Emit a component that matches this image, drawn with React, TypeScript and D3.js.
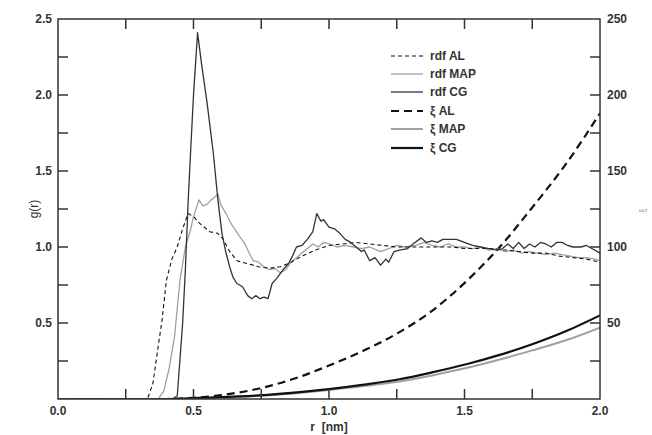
import * as d3 from 'd3';

// g(r) curves: [r (nm), g]
const rdfAL: [number, number][] = [
  [0, 0], [0.33, 0], [0.35, 0.1], [0.37, 0.35], [0.384, 0.52], [0.4, 0.78], [0.42, 0.92], [0.44, 1.0],
  [0.46, 1.12], [0.48, 1.22], [0.5, 1.2], [0.52, 1.16], [0.54, 1.13], [0.56, 1.1], [0.59, 1.09],
  [0.61, 1.05], [0.63, 0.98], [0.66, 0.91], [0.7, 0.89], [0.74, 0.87], [0.78, 0.86], [0.82, 0.87],
  [0.86, 0.9], [0.9, 0.94], [0.95, 0.98], [1.0, 1.01], [1.05, 1.02], [1.1, 1.03], [1.15, 1.02],
  [1.2, 1.01], [1.25, 1.0], [1.3, 1.0], [1.35, 1.0], [1.4, 1.0], [1.45, 1.0], [1.5, 0.99], [1.55, 0.99],
  [1.6, 0.99], [1.65, 0.98], [1.7, 0.97], [1.75, 0.96], [1.8, 0.96], [1.85, 0.94], [1.9, 0.93],
  [1.95, 0.92], [2.0, 0.9],
];

const rdfMAP: [number, number][] = [
  [0, 0], [0.37, 0], [0.39, 0.05], [0.41, 0.2], [0.43, 0.41], [0.45, 0.78], [0.47, 1.0], [0.49, 1.12],
  [0.5, 1.2], [0.52, 1.31], [0.535, 1.27], [0.55, 1.28], [0.565, 1.31], [0.58, 1.33], [0.59, 1.35],
  [0.6, 1.28], [0.62, 1.22], [0.64, 1.15], [0.67, 1.07], [0.69, 1.02], [0.7, 0.98], [0.72, 0.91],
  [0.74, 0.9], [0.76, 0.87], [0.78, 0.85], [0.8, 0.86], [0.82, 0.83], [0.84, 0.85], [0.86, 0.9],
  [0.88, 0.93], [0.9, 0.96], [0.92, 0.99], [0.94, 1.02], [0.96, 1.0], [0.98, 1.03], [1.0, 1.02],
  [1.03, 1.0], [1.06, 1.01], [1.09, 1.0], [1.12, 0.99], [1.15, 1.0], [1.19, 0.97], [1.22, 0.99],
  [1.25, 1.01], [1.28, 1.0], [1.32, 1.01], [1.35, 1.03], [1.38, 1.01], [1.41, 1.0], [1.44, 1.02],
  [1.47, 1.0], [1.5, 1.0], [1.53, 0.99], [1.56, 1.0], [1.59, 0.98], [1.62, 0.99], [1.65, 0.97],
  [1.68, 0.98], [1.71, 0.96], [1.74, 0.97], [1.77, 0.96], [1.8, 0.95], [1.83, 0.96], [1.86, 0.95],
  [1.89, 0.94], [1.92, 0.93], [1.95, 0.93], [1.98, 0.92], [2.0, 0.91],
];

const rdfCG: [number, number][] = [
  [0, 0], [0.42, 0], [0.44, 0.02], [0.46, 0.5], [0.47, 0.85], [0.48, 1.29], [0.49, 1.65], [0.5, 2.0],
  [0.515, 2.41], [0.53, 2.2], [0.55, 1.95], [0.573, 1.62], [0.59, 1.31], [0.605, 1.09], [0.62, 0.96],
  [0.635, 0.86], [0.646, 0.8], [0.66, 0.76], [0.68, 0.74], [0.7, 0.68], [0.715, 0.66], [0.73, 0.68],
  [0.745, 0.66], [0.76, 0.67], [0.775, 0.66], [0.79, 0.76], [0.81, 0.8], [0.83, 0.85], [0.85, 0.89],
  [0.865, 0.94], [0.88, 1.0], [0.9, 1.01], [0.92, 1.05], [0.94, 1.1], [0.955, 1.22], [0.97, 1.17],
  [0.98, 1.18], [1.0, 1.13], [1.02, 1.12], [1.04, 1.09], [1.06, 1.05], [1.08, 1.03], [1.1, 1.0],
  [1.12, 0.97], [1.13, 0.98], [1.15, 0.91], [1.17, 0.93], [1.19, 0.88], [1.21, 0.92], [1.22, 0.9],
  [1.24, 0.97], [1.26, 0.98], [1.29, 0.99], [1.31, 1.02], [1.34, 1.06], [1.36, 1.03], [1.38, 1.04],
  [1.4, 1.03], [1.42, 1.05], [1.45, 1.05], [1.47, 1.05], [1.5, 1.03], [1.53, 1.01], [1.56, 1.0],
  [1.59, 0.99], [1.62, 0.98], [1.64, 0.99], [1.66, 1.02], [1.68, 0.99], [1.7, 1.03], [1.72, 0.99],
  [1.74, 1.02], [1.76, 1.0], [1.78, 1.03], [1.8, 1.02], [1.82, 1.0], [1.84, 1.03], [1.86, 1.03],
  [1.88, 1.01], [1.9, 1.0], [1.93, 1.0], [1.95, 1.01], [1.97, 0.99], [2.0, 0.96],
];

// xi curves (right axis): [r (nm), value]
const xiAL: [number, number][] = [
  [0, 0], [0.4, 0], [0.5, 0.8], [0.6, 2.5], [0.757, 7.5], [0.89, 14.5], [1.0, 22], [1.13, 32],
  [1.26, 44], [1.38, 58], [1.51, 78], [1.63, 100], [1.75, 126], [1.88, 156], [2.0, 188],
];
const xiMAP: [number, number][] = [
  [0, 0], [0.42, 0], [0.52, 0.6], [0.76, 2.3], [1.0, 6], [1.13, 8.5], [1.26, 11.5], [1.38, 15.5],
  [1.51, 20.5], [1.63, 26], [1.75, 32], [1.88, 39], [2.0, 47],
];
const xiCG: [number, number][] = [
  [0, 0], [0.42, 0], [0.52, 0.7], [0.76, 2.6], [1.0, 6.5], [1.13, 9.5], [1.26, 13], [1.38, 17.5],
  [1.51, 23], [1.63, 29], [1.75, 36], [1.88, 45], [2.0, 55],
];

const xTickLabels = [0, 0.5, 1.0, 1.5, 2.0];
const xMinor = [0.25, 0.75, 1.25, 1.75];
const yLeftLabels = [0.5, 1.0, 1.5, 2.0, 2.5];
const yLeftMinor = [0.25, 0.75, 1.25, 1.75, 2.25];
const yRightLabels = [50, 100, 150, 200, 250];
const yRightMinor = [25, 75, 125, 175, 225];

const legendItems = [
  { label: 'rdf AL', color: '#111', width: 1.1, dash: '4,3' },
  { label: 'rdf MAP', color: '#a0a0a0', width: 1.3, dash: null },
  { label: 'rdf CG', color: '#333', width: 1.3, dash: null },
  { label: 'ξ AL', color: '#111', width: 2.2, dash: '8,5' },
  { label: 'ξ MAP', color: '#a0a0a0', width: 2, dash: null },
  { label: 'ξ CG', color: '#111', width: 2.2, dash: null },
];

const W = 652;
const H = 435;
const L = 58, R = 600, T = 19, B = 399;
const FONT = '"Liberation Sans", Arial, sans-serif';
const AXIS = '#333';

export default function App() {
  const x = d3.scaleLinear().domain([0, 2]).range([L, R]);
  const yL = d3.scaleLinear().domain([0, 2.5]).range([B, T]);
  const yR = d3.scaleLinear().domain([0, 250]).range([B, T]);

  const lineL = d3.line<[number, number]>().x(d => x(d[0])).y(d => yL(d[1]));
  const lineR = d3.line<[number, number]>().x(d => x(d[0])).y(d => yR(d[1])).curve(d3.curveMonotoneX);

  const tick = 10;
  const allX = [...xTickLabels, ...xMinor].filter(v => v > 0 && v < 2);

  return (
    <svg width={W} height={H} style={{ position: 'absolute', left: 0, top: 0, background: '#fff' }}>
      <defs>
        <clipPath id="plot">
          <rect x={L} y={T} width={R - L} height={B - T} />
        </clipPath>
      </defs>

      <g clipPath="url(#plot)" fill="none" strokeLinejoin="round">
        <path d={lineR(xiMAP)!} stroke="#a0a0a0" strokeWidth={2} />
        <path d={lineR(xiCG)!} stroke="#111" strokeWidth={2.2} />
        <path d={lineR(xiAL)!} stroke="#111" strokeWidth={2.2} strokeDasharray="8,5" />
        <path d={lineL(rdfMAP)!} stroke="#a0a0a0" strokeWidth={1.3} />
        <path d={lineL(rdfAL)!} stroke="#111" strokeWidth={1.1} strokeDasharray="4,3" />
        <path d={lineL(rdfCG)!} stroke="#333" strokeWidth={1.3} />
      </g>

      {/* frame */}
      <rect x={L} y={T} width={R - L} height={B - T} fill="none" stroke={AXIS} strokeWidth={1.5} />

      {/* x ticks bottom and top */}
      {allX.map(v => (
        <g key={'xt' + v} stroke={AXIS} strokeWidth={1.5}>
          <line x1={x(v)} x2={x(v)} y1={B} y2={B - tick} />
          <line x1={x(v)} x2={x(v)} y1={T} y2={T + tick} />
        </g>
      ))}
      {xTickLabels.map(v => (
        <text key={'xl' + v} x={x(v)} y={415} textAnchor="middle" fontFamily={FONT} fontWeight="bold"
          fontSize={12} fill="#333">{v.toFixed(1)}</text>
      ))}
      <text x={(L + R) / 2} y={431} textAnchor="middle" fontFamily={FONT} fontWeight="bold" fontSize={12}
        fill="#333" style={{ whiteSpace: 'pre' }}>{'r  [nm]'}</text>

      {/* left axis */}
      {[...yLeftLabels, ...yLeftMinor].filter(v => v < 2.5).map(v => (
        <line key={'yl' + v} x1={L} x2={L + tick} y1={yL(v)} y2={yL(v)} stroke={AXIS} strokeWidth={1.5} />
      ))}
      {yLeftLabels.map(v => (
        <text key={'yll' + v} x={52} y={yL(v) + 4} textAnchor="end" fontFamily={FONT} fontWeight="bold"
          fontSize={12} fill="#333">{v.toFixed(1)}</text>
      ))}
      <text transform={`translate(38,${(T + B) / 2}) rotate(-90)`} textAnchor="middle" fontFamily={FONT}
        fontSize={12} fill="#333">g(r)</text>

      {/* right axis */}
      {[...yRightLabels, ...yRightMinor].filter(v => v < 250).map(v => (
        <line key={'yr' + v} x1={R} x2={R - tick} y1={yR(v)} y2={yR(v)} stroke={AXIS} strokeWidth={1.5} />
      ))}
      {yRightLabels.map(v => (
        <text key={'yrl' + v} x={607} y={yR(v) + 4} textAnchor="start" fontFamily={FONT} fontWeight="bold"
          fontSize={12} fill="#333">{v}</text>
      ))}
      <text x={639} y={212} fontFamily={FONT} fontSize={6} fill="#666">ω,r</text>

      {/* legend */}
      {legendItems.map((it, i) => {
        const ys = [56, 74, 92, 111, 129, 148][i];
        return (
          <g key={it.label}>
            <line x1={391} x2={423} y1={ys} y2={ys} stroke={it.color} strokeWidth={it.width}
              strokeDasharray={it.dash ?? undefined} />
            <text x={430} y={ys + 4} fontFamily={FONT} fontWeight="bold" fontSize={12} fill="#333">
              {it.label}
            </text>
          </g>
        );
      })}
    </svg>
  );
}
